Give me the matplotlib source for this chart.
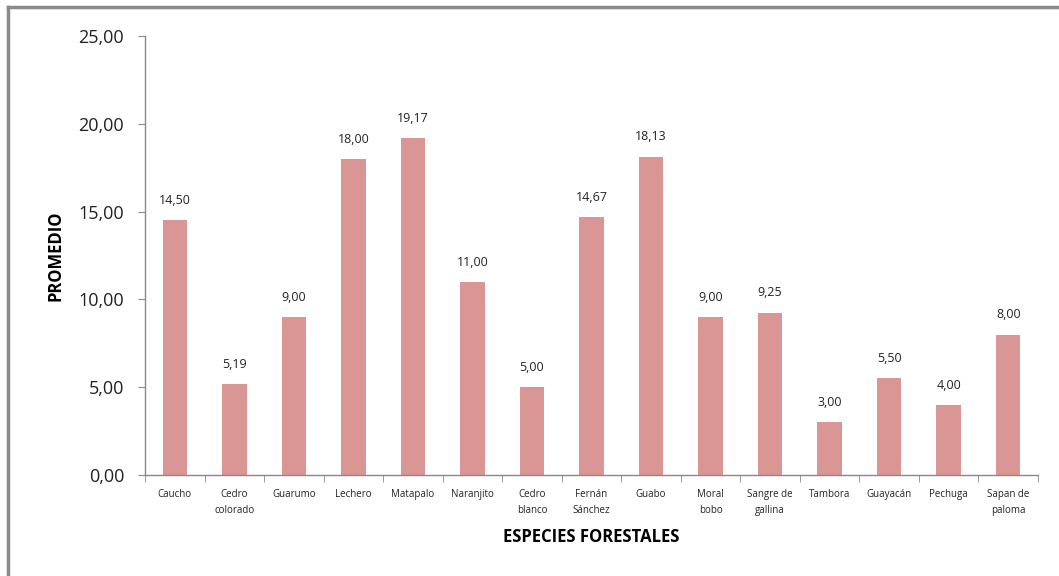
import matplotlib
matplotlib.use("Agg")
import matplotlib.pyplot as plt
from matplotlib.lines import Line2D
from matplotlib.ticker import FixedLocator

categories = ["Caucho", "Cedro\ncolorado", "Guarumo", "Lechero", "Matapalo", "Naranjito",
              "Cedro\nblanco", "Fernán\nSánchez", "Guabo", "Moral\nbobo", "Sangre de\ngallina",
              "Tambora", "Guayacán", "Pechuga", "Sapan de\npaloma"]
values = [14.50, 5.19, 9.00, 18.00, 19.17, 11.00, 5.00, 14.67, 18.13, 9.00, 9.25, 3.00, 5.50, 4.00, 8.00]
yticks = [0, 5, 10, 15, 20, 25]

def fmt(v):
    return f"{v:.2f}".replace(".", ",")

plt.rcParams['font.family'] = ['Open Sans', 'DejaVu Sans']

fig = plt.figure(figsize=(10.59, 5.76), dpi=100)
ax = fig.add_axes([145/1059, 1-475/576, (1038-145)/1059, (475-36)/576])

x = list(range(len(categories)))
ax.bar(x, values, width=0.41, color="#D99694")
for xi, v in zip(x, values):
    ax.text(xi, v + 0.75, fmt(v), ha="center", va="bottom", fontsize=9, color="#222222")

ax.set_xlim(-0.5, len(categories) - 0.5)
ax.set_ylim(0, 25)
ax.set_yticks(yticks)
ax.set_yticklabels([fmt(t) for t in yticks], fontsize=13, color="#222222")
ax.set_xticks(x)
ax.set_xticklabels(categories, fontsize=7, color="#222222", linespacing=1.7)
ax.tick_params(axis="x", length=0, pad=10)
ax.xaxis.set_minor_locator(FixedLocator([i - 0.5 for i in range(len(categories) + 1)]))
ax.tick_params(axis="x", which="minor", length=5, color="#888888", direction="out")
ax.tick_params(axis="y", length=5, color="#888888", direction="out", pad=10)

for s in ["top", "right"]:
    ax.spines[s].set_visible(False)
for s in ["left", "bottom"]:
    ax.spines[s].set_color("#888888")
    ax.spines[s].set_linewidth(1)

ax.set_ylabel("PROMEDIO", fontsize=12, fontweight="bold", labelpad=10)
ax.set_xlabel("ESPECIES FORESTALES", fontsize=12, fontweight="bold", labelpad=8)

# outer chart border
fig.add_artist(Line2D([8/1059, 8/1059], [1-7/576, 0], transform=fig.transFigure,
                      color="#8a8a8a", linewidth=2.5))
fig.add_artist(Line2D([8/1059, 1], [1-7/576, 1-7/576], transform=fig.transFigure,
                      color="#8a8a8a", linewidth=2.5))

fig.savefig("out.png", dpi=100)
